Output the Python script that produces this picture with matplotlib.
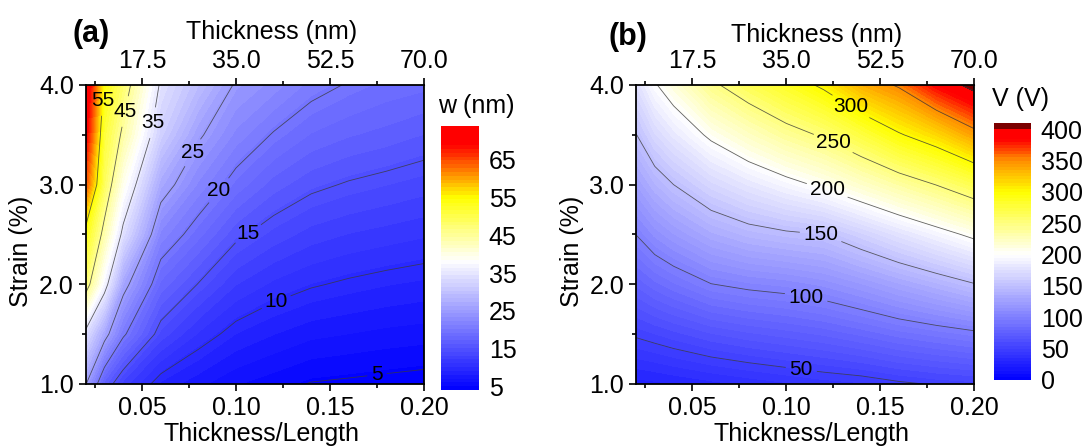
import numpy as np
import matplotlib
matplotlib.use('Agg')
import matplotlib.pyplot as plt
from matplotlib.colors import LinearSegmentedColormap
from matplotlib.ticker import MultipleLocator, FormatStrFormatter

plt.rcParams['font.family'] = ['Liberation Sans', 'DejaVu Sans']

# grid: thickness/length ratio (columns) and strain (rows)
ratio = [0.02, 0.03, 0.04, 0.06, 0.08, 0.10, 0.12, 0.14, 0.16, 0.18, 0.20]
strain = [1.0, 1.5, 2.0, 2.5, 3.0, 3.5, 4.0]
length_nm = 350.0

# (a) w in nm
w_nm = [
    [25.3, 16.8, 12.8, 9.0, 7.5, 6.3, 5.6, 4.9, 4.7, 4.5, 4.3],
    [33.8, 26.4, 20.5, 13.9, 11.1, 9.2, 8.25, 7.5, 7.2, 6.9, 6.7],
    [47.4, 36.9, 26.3, 18.0, 14.9, 12.3, 11.0, 10.2, 9.7, 9.3, 9.0],
    [53.2, 43.4, 33.9, 22.0, 18.7, 15.5, 13.9, 12.8, 12.2, 11.8, 11.4],
    [64.5, 48.6, 39.2, 26.7, 22.1, 19.0, 16.8, 15.5, 14.8, 14.3, 13.8],
    [70.0, 51.0, 44.0, 31.8, 25.5, 22.0, 19.8, 18.2, 17.4, 16.9, 16.25],
    [73.5, 54.0, 47.6, 34.4, 29.4, 24.6, 22.9, 20.9, 19.8, 19.0, 18.6],
]

# (b) V in volts
v_volt = [
    [27.5, 28.5, 30, 33, 36, 39, 42, 44, 48, 51, 53],
    [51.7, 54.8, 58.1, 64.4, 68.8, 72.2, 75.8, 81.1, 87.2, 91.8, 96.4],
    [76, 83.2, 88.9, 99.6, 103.9, 106.5, 111.4, 119.4, 129, 138.5, 148.9],
    [100.2, 111.4, 119.5, 133.2, 141.9, 146.8, 150, 163.2, 177.3, 190.9, 205],
    [124.8, 139.1, 150, 167.9, 180.7, 192.6, 204.4, 219.6, 235.4, 250.6, 268],
    [149.3, 168.9, 182, 204.5, 222.5, 239.6, 253.3, 273.8, 297.5, 316, 341.7],
    [175, 198, 213, 245, 266, 285, 305, 335, 353, 385, 408],
]

w_lines = [5, 10, 15, 20, 25, 35, 45, 55]
v_lines = [50, 100, 150, 200, 250, 300, 350, 400]
w_ticks = [5, 15, 25, 35, 45, 55, 65]
v_ticks = [0, 50, 100, 150, 200, 250, 300, 350, 400]

# where the contour labels sit
w_label_pos = [(0.026, 3.85), (0.0394, 3.74), (0.0527, 3.63), (0.076, 3.33),
               (0.091, 2.94), (0.106, 2.52), (0.121, 1.84), (0.175, 1.09)]
v_label_pos = [(0.135, 3.80), (0.126, 3.45), (0.122, 2.95), (0.1187, 2.51),
               (0.111, 1.91), (0.108, 1.14)]

nodes_a = [(0.0, '#0000ff'), (0.49, '#ffffff'), (0.73, '#ffff00'),
           (0.82, '#ff8c00'), (0.93, '#ff0000'), (1.0, '#ff0000')]
nodes_b = [(0.0, '#0000ff'), (0.50, '#ffffff'), (0.75, '#ffff00'),
           (0.875, '#ff9000'), (0.96, '#ff0000'), (1.0, '#ff0000')]
cmap_a = LinearSegmentedColormap.from_list('bwyr_a', nodes_a)
cmap_b = LinearSegmentedColormap.from_list('bwyr_b', nodes_b)
cmap_b.set_over('#7a0000')

X, Y = np.meshgrid(ratio, strain)

fig = plt.figure(figsize=(10.9, 4.47), dpi=100)


def panel(rect, crect, Z, levels, lines, label_pos, cticks, cmap, ctitle, ctitle_xy,
          letter, letter_xy, top_xy, extend='neither'):
    ax = fig.add_axes(rect)
    cf = ax.contourf(X, Y, Z, levels=levels, cmap=cmap, extend=extend)
    cs = ax.contour(X, Y, Z, levels=lines, colors='#3a3a3a', linewidths=0.6, alpha=0.8)
    texts = ax.clabel(cs, lines, manual=label_pos, inline=True, fmt='%d',
                      fontsize=15, inline_spacing=4)
    for t in texts:
        t.set_rotation(0)
        t.set_color('black')

    ax.set_xlim(0.02, 0.20)
    ax.set_ylim(1.0, 4.0)
    ax.set_xticks([0.05, 0.10, 0.15, 0.20])
    ax.set_yticks([1.0, 2.0, 3.0, 4.0])
    ax.xaxis.set_minor_locator(MultipleLocator(0.025))
    ax.yaxis.set_minor_locator(MultipleLocator(0.5))
    ax.xaxis.set_major_formatter(FormatStrFormatter('%.2f'))
    ax.yaxis.set_major_formatter(FormatStrFormatter('%.1f'))
    ax.tick_params(which='both', direction='out', labelsize=18, width=1.2)
    ax.tick_params(which='major', length=5)
    ax.tick_params(which='minor', length=3)
    for s in ax.spines.values():
        s.set_linewidth(1.3)
    ax.set_xlabel('Thickness/Length', fontsize=18)
    ax.set_ylabel('Strain (%)', fontsize=18)
    ax.xaxis.set_label_coords(0.52, -0.128)
    ax.yaxis.set_label_coords(-0.155, 0.445)

    sec = ax.secondary_xaxis('top', functions=(lambda r: r * length_nm,
                                                lambda t: t / length_nm))
    sec.set_xticks([17.5, 35.0, 52.5, 70.0])
    sec.xaxis.set_minor_locator(MultipleLocator(8.75))
    sec.xaxis.set_major_formatter(FormatStrFormatter('%.1f'))
    sec.tick_params(which='both', direction='out', labelsize=18, width=1.2)
    sec.tick_params(which='major', length=5)
    sec.tick_params(which='minor', length=3)
    fig.text(top_xy[0], top_xy[1], 'Thickness (nm)', fontsize=18,
             ha='center', va='center')

    cax = fig.add_axes(crect)
    cb = fig.colorbar(cf, cax=cax, extendrect=True, extendfrac=0.025)
    cb.set_ticks(cticks)
    cb.ax.tick_params(length=0, labelsize=18, pad=7)
    cb.outline.set_visible(False)
    fig.text(ctitle_xy[0], ctitle_xy[1], ctitle, fontsize=18, ha='center', va='center')
    fig.text(letter_xy[0], letter_xy[1], letter, fontsize=22, fontweight='bold',
             ha='center', va='center')
    return ax


panel([0.0785, 0.141, 0.3105, 0.669], [0.4046, 0.1275, 0.0349, 0.5906],
      w_nm, np.linspace(4.2, 73.7, 70), w_lines, w_label_pos, w_ticks, cmap_a,
      'w (nm)', (0.437, 0.763), '(a)', (0.084, 0.924), (0.2495, 0.928))
panel([0.5835, 0.141, 0.310, 0.669], [0.912, 0.1499, 0.034, 0.575],
      v_volt, np.arange(0, 401, 5), v_lines, v_label_pos, v_ticks, cmap_b,
      'V (V)', (0.936, 0.779), '(b)', (0.576, 0.917), (0.7495, 0.922), extend='max')

fig.savefig('out.png', dpi=100)
